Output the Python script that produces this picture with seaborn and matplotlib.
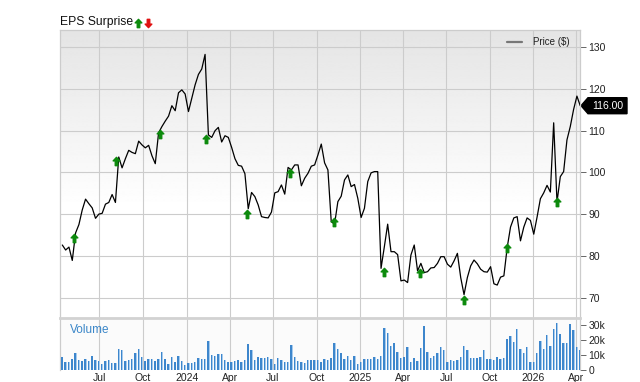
import numpy as np
import pandas as pd
import matplotlib
matplotlib.use("Agg")
import matplotlib.pyplot as plt
import matplotlib.dates as mdates
from matplotlib.path import Path
from matplotlib.patches import Polygon
from matplotlib.lines import Line2D
import seaborn as sns

# ---------------- data ----------------
start_date = "2023-04-14"   # weekly closes

price = [
    82.6, 81.4, 82.1, 78.9, 85.5, 87.5, 91.0, 93.6, 92.5, 91.5,
    89.0, 90.0, 90.2, 92.4, 92.8, 94.7, 92.8, 103.7, 101.1, 103.3,
    105.3, 104.8, 104.5, 107.5, 106.6, 105.9, 106.5, 104.0, 102.1, 109.5,
    111.0, 112.3, 113.5, 116.0, 114.8, 119.1, 119.8, 118.8, 114.6, 117.8,
    121.0, 123.5, 124.8, 128.3, 109.0, 108.4, 110.0, 110.8, 107.3, 108.8,
    108.4, 106.0, 103.3, 101.7, 101.5, 99.7, 91.3, 95.2, 94.2, 92.2,
    89.4, 89.2, 89.1, 90.5, 95.1, 95.4, 97.0, 94.8, 101.2, 100.6,
    101.8, 101.8, 96.8, 98.6, 99.8, 101.5, 101.8, 104.2, 106.8, 102.3,
    100.6, 88.2, 87.6, 93.0, 94.3, 98.2, 99.4, 96.6, 97.1, 93.8,
    89.2, 91.4, 97.8, 99.9, 100.2, 100.2, 77.0, 82.2, 87.6, 81.0,
    81.0, 80.3, 74.0, 74.2, 73.6, 80.2, 82.6, 76.4, 78.2, 76.0,
    76.2, 77.1, 77.2, 78.2, 79.8, 79.8, 78.0, 77.3, 78.8, 80.6,
    74.8, 70.7, 74.8, 77.6, 79.0, 78.1, 76.8, 76.2, 76.1, 77.4,
    73.3, 73.0, 74.9, 75.2, 82.0, 86.9, 89.1, 89.4, 83.6, 86.9,
    89.1, 88.5, 85.2, 89.3, 93.7, 95.1, 96.9, 95.3, 111.9, 92.9,
    99.0, 100.2, 107.8, 111.0, 115.1, 118.3, 116.0,
]

volume_k = [
    8.4, 5.6, 5.6, 7.3, 11.1, 6.7, 6.2, 7.6, 6.2, 9.3,
    6.7, 6.0, 4.0, 6.0, 6.7, 4.9, 4.9, 14.0, 13.3, 6.2,
    6.7, 7.1, 11.1, 14.0, 8.9, 6.2, 7.1, 7.1, 6.2, 7.1,
    12.2, 7.1, 3.8, 8.4, 5.1, 9.6, 6.0, 3.3, 4.4, 4.9,
    5.6, 8.2, 7.3, 7.3, 19.3, 10.0, 9.6, 10.4, 10.7, 6.7,
    5.1, 5.6, 6.0, 6.7, 5.1, 6.7, 17.3, 13.3, 6.7, 8.9,
    7.8, 7.8, 8.9, 7.3, 3.8, 7.8, 6.7, 5.6, 5.6, 16.7,
    8.9, 6.0, 5.6, 4.9, 6.7, 6.7, 6.7, 6.7, 5.1, 7.1,
    6.7, 7.8, 18.0, 13.8, 11.1, 7.1, 9.6, 6.7, 9.6, 3.8,
    5.3, 7.1, 7.3, 7.3, 8.9, 7.3, 9.3, 27.8, 24.4, 16.2,
    17.8, 11.8, 7.8, 8.4, 15.6, 5.1, 7.8, 6.2, 14.4, 29.3,
    12.2, 7.8, 9.3, 11.1, 15.1, 13.3, 5.6, 6.7, 6.0, 6.7,
    8.4, 16.0, 13.3, 7.8, 7.8, 7.8, 8.4, 13.3, 7.3, 7.1,
    6.7, 8.4, 7.1, 8.2, 20.7, 22.7, 18.9, 27.3, 13.8, 11.1,
    15.1, 5.6, 5.6, 11.6, 19.3, 13.8, 23.3, 16.0, 27.1, 31.1,
    24.0, 18.2, 18.2, 30.7, 26.7, 15.1, 13.3,
]

eps_dates = ["2023-05-08", "2023-08-05", "2023-11-05", "2024-02-11",
             "2024-05-08", "2024-08-07", "2024-11-07", "2025-02-21",
             "2025-05-07", "2025-08-08", "2025-11-07", "2026-02-19"]
eps_price = [84.3, 102.8, 109.2, 108.1, 90.0, 99.8, 88.2, 76.2,
             75.8, 69.4, 81.9, 92.8]

price_ticks = [70, 80, 90, 100, 110, 120, 130]
vol_ticks = [0, 10, 20, 30]
vol_tick_labels = ["0", "10k", "20k", "30k"]
month_ticks = ["2023-07-01", "2023-10-01", "2024-01-01", "2024-04-01",
               "2024-07-01", "2024-10-01", "2025-01-01", "2025-04-01",
               "2025-07-01", "2025-10-01", "2026-01-01", "2026-04-01"]
month_labels = ["Jul", "Oct", "2024", "Apr", "Jul", "Oct", "2025", "Apr",
                "Jul", "Oct", "2026", "Apr"]

assert len(price) == len(volume_k)
dates = pd.date_range(start_date, periods=len(price), freq="7D")
df = pd.DataFrame({"date": dates, "price": price, "volume": volume_k})
df["dnum"] = mdates.date2num(df["date"].dt.to_pydatetime())
eps = pd.DataFrame({"date": pd.to_datetime(eps_dates), "price": eps_price})
ticks_dt = pd.to_datetime(month_ticks)

# ---------------- styling ----------------
sns.set_theme(style="white")
plt.rcParams["font.family"] = ["Liberation Sans", "DejaVu Sans"]

W, H = 640, 382
fig = plt.figure(figsize=(W / 100, H / 100), dpi=100)
fig.patch.set_facecolor("white")

L, R = 60, 580
P_TOP, P_BOT = 30, 318
V_BOT = 370
rect_p = [L / W, 1 - P_BOT / H, (R - L) / W, (P_BOT - P_TOP) / H]
rect_v = [L / W, 1 - V_BOT / H, (R - L) / W, (V_BOT - P_BOT) / H]

# gradient background for price panel
bg = fig.add_axes(rect_p, zorder=0)
t = np.linspace(0, 1, 300)
shade = 0.895 + (1 - 0.895) * np.clip(t / 0.62, 0, 1)
bg.imshow(shade.reshape(-1, 1), cmap="gray", vmin=0, vmax=1, aspect="auto",
          extent=(0, 1, 0, 1), origin="upper", interpolation="bilinear")
bg.set_axis_off()

ax = fig.add_axes(rect_p, zorder=1)
ax.set_facecolor("none")
axv = fig.add_axes(rect_v, zorder=1, sharex=ax)
axv.set_facecolor("#fbfbfb")

gridc = "#cccccc"
xlim = (pd.Timestamp("2023-04-09 03:00"), pd.Timestamp("2026-04-09 12:00"))

# price line
sns.lineplot(data=df, x="date", y="price", ax=ax, color="black", lw=0.9,
             zorder=3, legend=False)

# earnings arrows
up = Path([(0, 1), (0.8, 0.15), (0.3, 0.15), (0.3, -1), (-0.3, -1),
           (-0.3, 0.15), (-0.8, 0.15), (0, 1)],
          [Path.MOVETO] + [Path.LINETO] * 6 + [Path.CLOSEPOLY])
down = Path([(x, -y) for x, y in up.vertices], up.codes)
ax.plot(eps["date"], eps["price"], ls="none", marker=up, ms=6.0,
        color="#0c8a0c", mec="#0c8a0c", zorder=4)

ax.set_xlim(*xlim)
ax.set_ylim(65.1, 134.15)
ax.set_yticks(price_ticks)
ax.yaxis.tick_right()
ax.set_xticks(ticks_dt)
ax.grid(True, color=gridc, lw=0.8)
ax.tick_params(axis="x", length=0, labelbottom=False)
ax.tick_params(axis="y", length=4, width=0.7, color="#666666", pad=2,
               labelsize=7.5, labelcolor="#222222")
ax.set_xlabel("")
ax.set_ylabel("")
for s in ["left", "top", "right"]:
    ax.spines[s].set_color(gridc)
    ax.spines[s].set_linewidth(0.9)
ax.spines["bottom"].set_visible(False)

# volume bars (two-tone)
axv.bar(df["dnum"].values, df["volume"].values, width=4.9, color="#a6cbee",
        zorder=2, linewidth=0)
axv.bar(df["dnum"].values - 0.9, df["volume"].values, width=3.1,
        color="#3d86cc", zorder=3, linewidth=0)
axv.set_ylim(0, 34.7)
axv.set_yticks(vol_ticks)
axv.set_yticklabels(vol_tick_labels)
axv.yaxis.tick_right()
axv.set_xticks(mdates.date2num(ticks_dt.to_pydatetime()))
axv.set_xticklabels(month_labels)
axv.grid(True, axis="x", color=gridc, lw=0.8)
axv.grid(False, axis="y")
axv.tick_params(axis="x", length=0, pad=2, labelsize=7.5, labelcolor="#222222")
axv.tick_params(axis="y", length=4, width=0.7, color="#666666", pad=2,
                labelsize=7.5, labelcolor="#222222")
axv.set_xlim(mdates.date2num(xlim[0].to_pydatetime()),
             mdates.date2num(xlim[1].to_pydatetime()))
for s in ["left", "right"]:
    axv.spines[s].set_color(gridc)
    axv.spines[s].set_linewidth(0.9)
axv.spines["top"].set_color("#d2d2d2")
axv.spines["top"].set_linewidth(2.0)
axv.spines["bottom"].set_visible(False)
axv.text(0.02, 0.77, "Volume", transform=axv.transAxes, fontsize=8.5,
         color="#3a86c8", va="center", ha="left")

# header
fig.text(L / W, 1 - 22 / H, "EPS Surprise", fontsize=8.7, va="center",
         ha="left", color="#111111")
ax.plot([138 / W], [1 - 22.5 / H], transform=fig.transFigure, marker=up,
        ms=6.0, color="#0c8a0c", clip_on=False, ls="none")
ax.plot([148 / W], [1 - 22.5 / H], transform=fig.transFigure, marker=down,
        ms=6.0, color="#e01010", clip_on=False, ls="none")

# legend
fig.add_artist(Line2D([507 / W, 522 / W], [1 - 41.7 / H] * 2, color="#777777",
                      lw=1.6))
fig.text(533 / W, 1 - 41.7 / H, "Price ($)", fontsize=7, va="center",
         ha="left", color="#222222")

# last price tag
last = df["price"].iloc[-1]
yd = ax.transData.transform((df["dnum"].iloc[-1], last))[1]
yc = yd / fig.bbox.height
hh = 8 / H
tag = Polygon([(581 / W, yc), (588 / W, yc + hh), (627 / W, yc + hh),
               (627 / W, yc - hh), (588 / W, yc - hh)], closed=True,
              transform=fig.transFigure, facecolor="black", edgecolor="black")
fig.add_artist(tag)
fig.text(607.5 / W, yc, f"{last:.2f}", fontsize=7.5, color="white",
         ha="center", va="center")

fig.savefig("out.png", dpi=100)
